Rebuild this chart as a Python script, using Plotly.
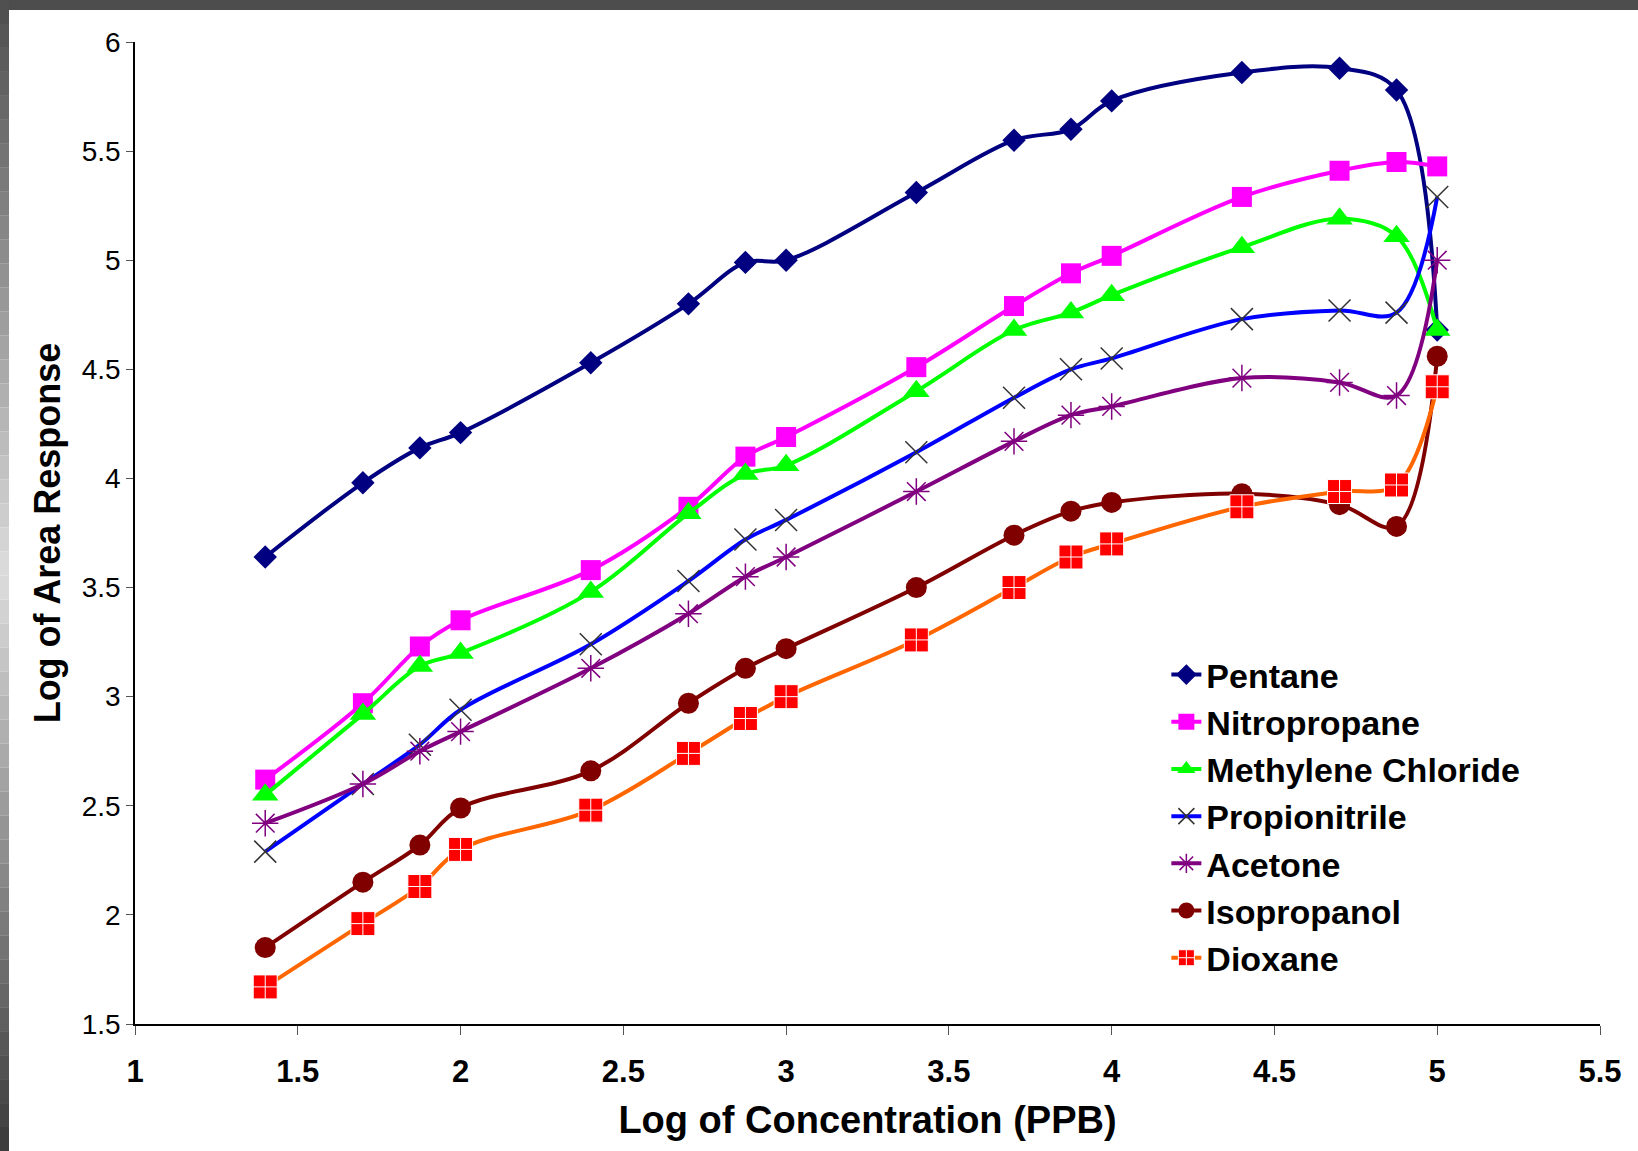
import plotly.graph_objects as go

# log10 of concentration (ppb)
log_conc = [1.40, 1.70, 1.875, 2.00, 2.40, 2.70, 2.875, 3.00, 3.40, 3.70, 3.875, 4.00, 4.40, 4.70, 4.875, 5.00]

pentane = [3.64, 3.98, 4.14, 4.21, 4.53, 4.80, 4.99, 5.00, 5.31, 5.55, 5.60, 5.73, 5.86, 5.88, 5.78, 4.68]
nitropropane = [2.62, 2.97, 3.23, 3.35, 3.58, 3.87, 4.10, 4.19, 4.51, 4.79, 4.94, 5.02, 5.29, 5.41, 5.45, 5.43]
methylene_chloride = [2.55, 2.92, 3.14, 3.20, 3.48, 3.84, 4.02, 4.06, 4.40, 4.68, 4.76, 4.84, 5.06, 5.19, 5.11, 4.68]
propionitrile = [2.29, 2.60, 2.78, 2.94, 3.24, 3.53, 3.72, 3.81, 4.12, 4.37, 4.50, 4.55, 4.73, 4.77, 4.76, 5.29]
acetone = [2.42, 2.60, 2.75, 2.84, 3.13, 3.38, 3.55, 3.64, 3.94, 4.17, 4.29, 4.33, 4.46, 4.44, 4.38, 5.00]
isopropanol = [1.85, 2.15, 2.32, 2.49, 2.66, 2.97, 3.13, 3.22, 3.50, 3.74, 3.85, 3.89, 3.93, 3.88, 3.78, 4.56]
dioxane = [1.67, 1.96, 2.13, 2.30, 2.48, 2.74, 2.90, 3.00, 3.26, 3.50, 3.64, 3.70, 3.87, 3.94, 3.97, 4.42]

x_ticks = [1, 1.5, 2, 2.5, 3, 3.5, 4, 4.5, 5, 5.5]
y_ticks = [1.5, 2, 2.5, 3, 3.5, 4, 4.5, 5, 5.5, 6]

FONT = "Liberation Sans, Arial, sans-serif"
W, H = 1638, 1151
L, R, T, B = 135, 38, 42, 127

# (name, values, line colour, marker symbol, marker colour, size, marker line colour, marker line width)
series = [
    ("Pentane", pentane, "#000080", "diamond", "#000080", 18, "#000080", 0),
    ("Nitropropane", nitropropane, "#FF00FF", "square", "#FF00FF", 20, "#FF00FF", 0),
    ("Methylene Chloride", methylene_chloride, "#00FF00", "triangle-up", "#00FF00", 23, "#00FF00", 0),
    ("Propionitrile", propionitrile, "#0000FF", "x-thin", "#333333", 22, "#333333", 1.5),
    ("Acetone", acetone, "#800080", "asterisk", "#800080", 22, "#800080", 1.5),
    ("Isopropanol", isopropanol, "#800000", "circle", "#800000", 21, "#800000", 0),
    ("Dioxane", dioxane, "#FF6600", "square-cross", "#FF0000", 24, "#FFFFFF", 1),
]

fig = go.Figure()
for name, vals, lc, sym, mc, size, mlc, mlw in series:
    fig.add_trace(go.Scatter(
        x=log_conc, y=vals, name=name,
        mode="lines+markers",
        line=dict(color=lc, width=4, shape="spline", smoothing=1.0),
        marker=dict(symbol=sym, color=mc, size=size, line=dict(color=mlc, width=mlw)),
    ))


def px_x(px):
    return (px - L) / (W - L - R)


def px_y(py):
    return (H - B - py) / (H - T - B)


# dark frame on the top and a grey gradient strip on the left edge
shapes = [dict(type="rect", xref="paper", yref="paper", layer="above",
               x0=px_x(0), x1=px_x(W), y0=px_y(10), y1=px_y(0),
               fillcolor="#4D4D4D", line=dict(width=0))]
n_bands = 48
for i in range(n_bands):
    y0 = i * H / n_bands
    y1 = (i + 1) * H / n_bands
    t = (y0 + y1) / 2 / H
    g = int(0x4D + (0xDD - 0x4D) * t / 0.5) if t < 0.5 else int(0xDD - (0xDD - 0x3A) * (t - 0.5) / 0.5)
    shapes.append(dict(type="rect", xref="paper", yref="paper", layer="above",
                       x0=px_x(0), x1=px_x(9), y0=px_y(y1), y1=px_y(y0),
                       fillcolor="rgb(%d,%d,%d)" % (g, g, g), line=dict(width=0)))

fig.update_layout(
    width=W, height=H,
    margin=dict(l=L, r=R, t=T, b=B),
    paper_bgcolor="white", plot_bgcolor="white",
    font=dict(family=FONT, color="black"),
    shapes=shapes,
    showlegend=True,
    legend=dict(x=0.704, y=0.385, xanchor="left", yanchor="top",
                font=dict(family=FONT, size=34, weight="bold", color="black"),
                bgcolor="rgba(0,0,0,0)", traceorder="normal"),
)

fig.update_xaxes(
    range=[1, 5.5], tickvals=x_ticks, ticktext=[str(v) for v in x_ticks],
    showgrid=False, zeroline=False, showline=True, linecolor="black", linewidth=1.5,
    ticks="outside", ticklen=9, tickcolor="#555555", tickwidth=1,
    tickfont=dict(family=FONT, size=31, weight="bold", color="black"),
    ticklabelstandoff=10,
    title=dict(text="Log of Concentration (PPB)", standoff=18,
               font=dict(family=FONT, size=38, weight="bold", color="black")),
)
fig.update_yaxes(
    range=[1.5, 6], tickvals=y_ticks, ticktext=[str(v) for v in y_ticks],
    showgrid=False, zeroline=False, showline=True, linecolor="black", linewidth=1.5,
    ticks="outside", ticklen=7, tickcolor="#555555", tickwidth=1,
    tickfont=dict(family=FONT, size=28, color="black"),
    ticklabelstandoff=0,
    title=dict(text="Log of Area Response", standoff=10,
               font=dict(family=FONT, size=36, weight="bold", color="black")),
)

# drop the default body margin so the figure sits at the page origin
fig.write_html("out.html", config={"displayModeBar": False},
               post_script="document.body.style.margin='0';")
